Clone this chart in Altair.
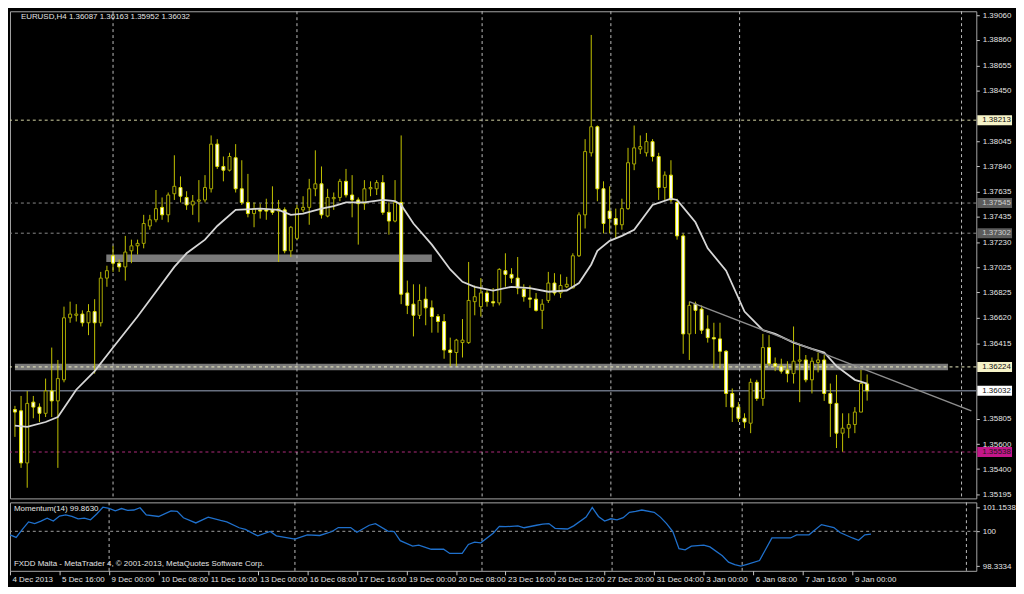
import altair as alt
import pandas as pd

# ---------------- data ----------------
OPEN = [1.3588,1.3587,1.3545,1.3594,1.3590,1.3585,1.3603,1.3595,1.3612,1.3662,
 1.3664,1.3665,1.3658,1.3667,1.3658,1.3694,1.3712,1.3706,1.3703,1.3716,
 1.3720,1.3722,1.3736,1.3741,1.3751,1.3745,1.3762,1.3767,1.3759,1.3753,
 1.3756,1.3757,1.3766,1.3802,1.3784,1.3781,1.3791,1.3766,1.3755,1.3746,
 1.3749,1.3749,1.3749,1.3748,1.3749,1.3716,1.3726,1.3749,1.3751,1.3766,
 1.3770,1.3744,1.3758,1.3759,1.3772,1.3761,1.3757,1.3754,1.3766,1.3766,
 1.3771,1.3747,1.3740,1.3755,1.3682,1.3673,1.3664,1.3677,1.3670,1.3663,
 1.3659,1.3636,1.3634,1.3642,1.3642,1.3675,1.3671,1.3682,1.3675,1.3674,
 1.3700,1.3697,1.3694,1.3685,1.3678,1.3677,1.3668,1.3676,1.3690,1.3682,
 1.3687,1.3686,1.3712,1.3745,1.3795,1.3816,1.3766,1.3748,1.3742,1.3737,
 1.3750,1.3786,1.3798,1.3795,1.3804,1.3792,1.3767,1.3777,1.3755,1.3728,
 1.3649,1.3673,1.3669,1.3653,1.3646,1.3645,1.3635,1.3601,1.3590,1.3581,
 1.3577,1.3610,1.3597,1.3638,1.3625,1.3623,1.3620,1.3617,1.3627,1.3628,
 1.3612,1.3626,1.3628,1.3601,1.3593,1.3569,1.3573,1.3576,1.3586,1.36087]

HIGH = [1.3591,1.3599,1.3603,1.3599,1.3593,1.3613,1.3638,1.3628,1.3671,1.3675,
 1.3673,1.3668,1.3673,1.3677,1.3699,1.3704,1.3720,1.3709,1.3728,1.3725,
 1.3725,1.3745,1.3745,1.3765,1.3759,1.3763,1.3793,1.3776,1.3764,1.3761,
 1.3773,1.3777,1.3809,1.3806,1.3792,1.3795,1.3802,1.3789,1.3778,1.3755,
 1.3754,1.3758,1.3768,1.3757,1.3751,1.3736,1.3753,1.3760,1.3774,1.3797,
 1.3784,1.3766,1.3763,1.3774,1.3782,1.3777,1.3759,1.3773,1.3772,1.3773,
 1.3777,1.3755,1.3773,1.3809,1.3692,1.3689,1.3689,1.3687,1.3676,1.3665,
 1.3665,1.3646,1.3645,1.3661,1.3707,1.3688,1.3694,1.3685,1.3686,1.3702,
 1.3714,1.3702,1.3711,1.3689,1.3688,1.3682,1.3677,1.3699,1.3698,1.3697,
 1.3695,1.3714,1.3747,1.3806,1.3890,1.3817,1.3772,1.3768,1.3750,1.3758,
 1.3799,1.3817,1.3809,1.3811,1.3806,1.3795,1.3780,1.3789,1.3758,1.3730,
 1.3675,1.3675,1.3672,1.3664,1.3658,1.3658,1.3636,1.3605,1.3594,1.3585,
 1.3613,1.3612,1.3649,1.3648,1.3630,1.3629,1.3627,1.3655,1.3640,1.3632,
 1.3630,1.3634,1.3632,1.3609,1.3616,1.3585,1.3585,1.3590,1.3620,1.36163]

LOW = [1.3566,1.3541,1.3525,1.3581,1.3578,1.3582,1.3582,1.3541,1.3610,1.3658,
 1.3659,1.3655,1.3648,1.3617,1.3655,1.3687,1.3699,1.3699,1.3692,1.3706,
 1.3713,1.3718,1.3733,1.3739,1.3741,1.3739,1.3757,1.3755,1.3749,1.3745,
 1.3739,1.3755,1.3763,1.3782,1.3772,1.3780,1.3763,1.3753,1.3743,1.3735,
 1.3742,1.3741,1.3745,1.3707,1.3714,1.3711,1.3725,1.3747,1.3737,1.3760,
 1.3742,1.3743,1.3749,1.3756,1.3759,1.3743,1.3721,1.3749,1.3760,1.3761,
 1.3745,1.3729,1.3739,1.3673,1.3665,1.3647,1.3661,1.3656,1.3650,1.3650,
 1.3629,1.3623,1.3623,1.3630,1.3641,1.3664,1.3663,1.3671,1.3671,1.3672,
 1.3687,1.3690,1.3681,1.3675,1.3670,1.3667,1.3653,1.3674,1.3680,1.3678,
 1.3686,1.3686,1.3711,1.3734,1.3792,1.3756,1.3730,1.3730,1.3726,1.3733,
 1.3749,1.3781,1.3794,1.3792,1.3788,1.3757,1.3757,1.3755,1.3725,1.3633,
 1.3628,1.3649,1.3649,1.3642,1.3621,1.3621,1.3590,1.3578,1.3578,1.3573,
 1.3569,1.3595,1.3591,1.3623,1.3619,1.3617,1.3610,1.3609,1.3594,1.3610,
 1.3601,1.3618,1.3595,1.3566,1.3557,1.3554,1.3565,1.3569,1.3586,1.35952]

CLOSE = [1.3586,1.3545,1.3593,1.3590,1.3585,1.3603,1.3595,1.3613,1.3662,1.3665,
 1.3665,1.3658,1.3667,1.3658,1.3694,1.3700,1.3706,1.3703,1.3715,1.3720,
 1.3722,1.3738,1.3741,1.3750,1.3745,1.3761,1.3768,1.3760,1.3753,1.3756,
 1.3757,1.3767,1.3802,1.3784,1.3781,1.3792,1.3766,1.3755,1.3746,1.3750,
 1.3748,1.3748,1.3747,1.3750,1.3716,1.3735,1.3750,1.3751,1.3766,1.3770,
 1.3745,1.3759,1.3759,1.3772,1.3761,1.3757,1.3754,1.3766,1.3767,1.3771,
 1.3747,1.3740,1.3755,1.3681,1.3672,1.3664,1.3676,1.3670,1.3663,1.3659,
 1.3636,1.3634,1.3644,1.3644,1.3676,1.3679,1.3682,1.3675,1.3674,1.3701,
 1.3697,1.3694,1.3686,1.3679,1.3677,1.3668,1.3673,1.3690,1.3682,1.3688,
 1.3689,1.3712,1.3745,1.3796,1.3816,1.3766,1.3738,1.3742,1.3737,1.3750,
 1.3787,1.3799,1.3800,1.3804,1.3792,1.3767,1.3777,1.3757,1.3728,1.3649,
 1.3672,1.3668,1.3652,1.3646,1.3645,1.3635,1.3601,1.3590,1.3581,1.3578,
 1.3610,1.3597,1.3638,1.3625,1.3623,1.3619,1.3617,1.3627,1.3628,1.3612,
 1.3627,1.3628,1.3601,1.3593,1.3569,1.3573,1.3576,1.3586,1.3609,1.36032]

MA_IDX = [0,2,5,7,10,13,16,20,23,26,28,31,33,36,40,43,45,47,50,52,54,57,60,62,63,
          65,68,71,73,75,78,81,84,87,90,92,94,95,97,99,101,104,107,108,109,111,
          113,116,119,122,124,127,130,132,134,137,139]
MA_VAL = [1.3575,1.3574,1.3578,1.3582,1.3604,1.3619,1.3638,1.3663,1.3683,1.3703,
          1.3714,1.3725,1.3736,1.3749,1.3750,1.3749,1.3745,1.3746,1.3750,1.3752,
          1.3755,1.3755,1.3757,1.3756,1.3753,1.3738,1.3721,1.3701,1.3691,1.3687,
          1.3684,1.3687,1.3686,1.3683,1.3684,1.3690,1.3705,1.3716,1.3724,1.3728,
          1.3733,1.3753,1.3758,1.3757,1.3751,1.3739,1.3718,1.3700,1.3667,1.3652,
          1.3649,1.3642,1.3637,1.3634,1.3623,1.3612,1.3609]

MOM_IDX = [0,1,2,3,4,5,6,7,8,9,10,11,12,13,14,15,16,17,18,19,20,21,22,24,26,27,28,
           30,32,34,35,37,38,40,42,43,46,48,50,52,53,55,56,58,59,61,62,63,65,66,
           68,70,71,73,74,75,76,78,79,80,82,83,85,86,87,88,90,91,93,94,95,96,97,
           98,99,100,101,102,104,105,106,107,108,109,110,112,113,115,116,117,118,
           119,121,123,125,126,127,129,131,133,134,136,137,138,139]
MOM_VAL = [99.83,99.71,100.09,100.45,100.37,100.49,100.63,100.49,100.73,100.79,
           100.71,100.60,100.63,100.55,100.83,101.1538,101.10,100.98,101.09,101.00,
           101.02,101.13,100.79,100.71,100.98,100.96,100.65,100.40,100.68,100.52,
           100.45,100.17,100.09,99.78,99.99,99.78,99.63,99.83,99.80,99.99,
           100.18,100.18,99.95,100.29,100.37,100.01,99.99,99.55,99.29,99.34,
           99.14,99.14,98.94,98.94,99.37,99.48,99.45,99.91,100.24,100.22,
           100.26,100.17,100.29,100.34,100.37,100.14,100.11,100.26,100.68,101.14,
           100.71,100.49,100.60,100.55,100.65,100.91,100.96,101.02,100.91,100.68,
           100.37,99.99,99.17,99.11,99.29,99.34,99.25,98.83,98.52,98.40,
           98.3334,98.42,98.60,99.68,99.68,99.68,99.83,99.83,100.32,100.18,
           99.94,99.68,99.57,99.83,99.863]

DATE_LABELS = ["4 Dec 2013", "5 Dec 16:00", "9 Dec 00:00", "10 Dec 08:00",
               "11 Dec 16:00", "13 Dec 00:00", "16 Dec 08:00", "17 Dec 16:00",
               "19 Dec 00:00", "20 Dec 08:00", "23 Dec 16:00", "26 Dec 12:00",
               "27 Dec 20:00", "31 Dec 04:00", "3 Jan 00:00", "6 Jan 08:00",
               "7 Jan 16:00", "9 Jan 00:00"]
DATE_STEP = 8

# regular scale labels (those hidden behind the highlighted level labels are left out)
PRICE_TICKS = [1.39060, 1.38860, 1.38655, 1.38450, 1.38045, 1.37840,
               1.37635, 1.37435, 1.37230, 1.37025, 1.36825, 1.36620, 1.36415,
               1.35805, 1.35600, 1.35400, 1.35195]
MOM_TICKS = [98.3334, 100.0, 101.1538]

SEPARATORS = [16, 46, 76.2, 97.2, 118.2, 154.4]

# user objects on the chart
DASHED_LEVELS = [1.38213, 1.37545, 1.37302, 1.36224, 1.35538]
DASHED_COLORS = ["#d6d6a4", "#8a8a8a", "#8a8a8a", "#efefc4", "#b02a7c"]
BID_LEVEL = 1.36032
BOX_X1 = [14.9, 0.0]
BOX_X2 = [68.0, 152.2]
BOX_Y1 = [1.3707, 1.36198]
BOX_Y2 = [1.3713, 1.36250]
TREND_X = [110, 156]
TREND_Y = [1.3675, 1.3587]

HL_PRICES = [1.38213, 1.37545, 1.37302, 1.36224, 1.36032, 1.35538]
HL_BG = ["#f6f3c8", "#5c5c5c", "#5c5c5c", "#f6f3c8", "#ffffff", "#c4168a"]
HL_FG = ["#111111", "#cfcfcf", "#cfcfcf", "#111111", "#111111", "#1a1a1a"]

MOM_LEVEL = 100.0

# ---------------- layout / styles ----------------
W, H1, H2 = 974, 491, 69
X_DOM = [0, 156]
Y_DOM = [1.35164, 1.39091]
M_DOM = [98.106, 101.386]
FONT = "Liberation Sans Narrow, Liberation Sans, Arial, sans-serif"
FS = 8

xs = alt.Scale(domain=X_DOM, nice=False, zero=False)
ys = alt.Scale(domain=Y_DOM, nice=False, zero=False)
ms = alt.Scale(domain=M_DOM, nice=False, zero=False)

bars = pd.DataFrame({"i": list(range(len(OPEN))), "o": OPEN, "h": HIGH,
                     "l": LOW, "c": CLOSE})
ma = pd.DataFrame({"i": MA_IDX, "v": MA_VAL})
mom = pd.DataFrame({"i": MOM_IDX, "v": MOM_VAL})
seps = pd.DataFrame({"i": SEPARATORS})
dashed = pd.DataFrame({"p": DASHED_LEVELS, "col": DASHED_COLORS})
bid = pd.DataFrame({"p": [BID_LEVEL]})
boxes = pd.DataFrame({"x1": BOX_X1, "x2": BOX_X2, "y1": BOX_Y1, "y2": BOX_Y2})
trend = pd.DataFrame({"x1": [TREND_X[0]], "x2": [TREND_X[1]],
                      "y1": [TREND_Y[0]], "y2": [TREND_Y[1]]})
hl = pd.DataFrame({"p": HL_PRICES, "bg": HL_BG, "fg": HL_FG,
                   "lab": [f"{p:.5f}" for p in HL_PRICES]})
header = pd.DataFrame({"t": [f"EURUSD,H4  {OPEN[-1]:.5f} {HIGH[-1]:.5f} "
                             f"{LOW[-1]:.5f} {CLOSE[-1]:.5f}"]})
mom_title = pd.DataFrame({"t": [f"Momentum(14) {MOM_VAL[-1]:.4f}"]})
credit = pd.DataFrame({"t": ["FXDD Malta - MetaTrader 4, \u00a9 2001-2013, MetaQuotes Software Corp."]})
mlevel = pd.DataFrame({"p": [MOM_LEVEL]})

y_axis = alt.Axis(orient="right", values=PRICE_TICKS, format=".5f", title=None,
                  labelOverlap=False, labelFlush=False, domain=False, grid=False,
                  ticks=True, tickSize=3, tickColor="#c8c8c8", labelPadding=3,
                  labelColor="#e4e4e4", labelFont=FONT, labelFontSize=FS)
label_expr = "[" + ",".join(f"'{d}'" for d in DATE_LABELS) + f"][round(datum.value/{DATE_STEP})]"
x_axis = alt.Axis(values=[k * DATE_STEP for k in range(len(DATE_LABELS))],
                  labelExpr=label_expr, title=None, grid=False, domain=False,
                  ticks=True, tickSize=4, tickColor="#c8c8c8", labelAlign="left",
                  labelBaseline="top", labelPadding=1, labelOffset=2,
                  labelFlush=False, labelOverlap=False, labelColor="#e4e4e4",
                  labelFont=FONT, labelFontSize=FS)
m_axis = alt.Axis(orient="right", values=MOM_TICKS, title=None,
                  labelExpr="datum.value == 100 ? '100' : format(datum.value, '.4f')",
                  labelOverlap=False, labelFlush=False, domain=False, grid=False,
                  ticks=True, tickSize=3, tickColor="#c8c8c8", labelPadding=3,
                  labelColor="#e4e4e4", labelFont=FONT, labelFontSize=FS)


def X(f="i"):
    return alt.X(f"{f}:Q", scale=xs, axis=None)


def Y(f):
    return alt.Y(f"{f}:Q", scale=ys, axis=y_axis)


def MX(f="i"):
    return alt.X(f"{f}:Q", scale=xs, axis=x_axis)


def MY(f):
    return alt.Y(f"{f}:Q", scale=ms, axis=m_axis)


# ---- main pane layers ----
box_layer = alt.Chart(boxes).mark_rect(color="#7a7a7a", clip=True).encode(
    x=X("x1"), x2="x2:Q", y=Y("y1"), y2="y2:Q")

dash_layer = alt.Chart(dashed).mark_rule(strokeDash=[3, 3], strokeWidth=1).encode(
    y=Y("p"), color=alt.Color("col:N", scale=None))

bid_layer = alt.Chart(bid).mark_rule(color="#687080", strokeWidth=1.5).encode(y=Y("p"))

sep_layer = alt.Chart(seps).mark_rule(strokeDash=[3, 3], color="#bdbdbd",
                                      strokeWidth=1).encode(x=X())

wick_layer = alt.Chart(bars).mark_rule(color="#c2c200", strokeWidth=1, clip=True).encode(
    x=X(), y=Y("l"), y2="h:Q")

up = "datum.c >= datum.o"
body_layer = alt.Chart(bars).mark_bar(size=3, strokeWidth=1, clip=True).encode(
    x=X(), y=Y("o"), y2="c:Q",
    fill=alt.condition(up, alt.value("#000000"), alt.value("#ffffff")),
    stroke=alt.condition(up, alt.value("#a8a800"), alt.value("#e2e200")))

ma_layer = alt.Chart(ma).mark_line(color="#d6d6d6", strokeWidth=1.8, clip=True).encode(
    x=X(), y=Y("v"))

trend_layer = alt.Chart(trend).mark_rule(color="#8e8e8e", strokeWidth=1.5, clip=True).encode(
    x=X("x1"), x2="x2:Q", y=Y("y1"), y2="y2:Q")

hl_box = alt.Chart(hl).transform_calculate(
    lo="datum.p - 0.00040", hi="datum.p + 0.00040").mark_rect().encode(
    x=alt.value(W + 1), x2=alt.value(W + 36), y=Y("lo"), y2="hi:Q",
    fill=alt.Color("bg:N", scale=None))

hl_text = alt.Chart(hl).mark_text(align="left", baseline="middle", font=FONT,
                                  fontSize=FS).encode(
    x=alt.value(W + 6), y=Y("p"), text="lab:N", color=alt.Color("fg:N", scale=None))

head_layer = alt.Chart(header).mark_text(align="left", baseline="middle", font=FONT,
                                         fontSize=FS, color="#e4e4e4").encode(
    x=alt.value(11), y=alt.value(6), text="t:N")

main = alt.layer(box_layer, dash_layer, bid_layer, sep_layer, wick_layer, body_layer,
                 ma_layer, trend_layer, hl_box, hl_text, head_layer).properties(
    width=W, height=H1)

# ---- momentum pane ----
m_sep = alt.Chart(seps).mark_rule(strokeDash=[3, 3], color="#bdbdbd",
                                  strokeWidth=1).encode(x=MX())
m_level = alt.Chart(mlevel).mark_rule(strokeDash=[3, 3], color="#a0a0a0").encode(y=MY("p"))
m_line = alt.Chart(mom).mark_line(color="#1f70cc", strokeWidth=1.3, clip=True).encode(
    x=MX(), y=MY("v"))
m_title = alt.Chart(mom_title).mark_text(align="left", baseline="middle", font=FONT,
                                         fontSize=FS, color="#e4e4e4").encode(
    x=alt.value(4), y=alt.value(7), text="t:N")
m_credit = alt.Chart(credit).mark_text(align="left", baseline="middle", font=FONT,
                                       fontSize=FS, color="#e4e4e4").encode(
    x=alt.value(4), y=alt.value(62), text="t:N")

momentum = alt.layer(m_sep, m_level, m_line, m_title, m_credit).properties(
    width=W, height=H2)

chart = alt.vconcat(main, momentum, spacing=2).properties(
    background="#000000",
    padding={"left": 0, "top": 0, "right": 0, "bottom": 0},
).configure_view(stroke="#a6a6a6", strokeWidth=1)

chart.save("out.html", embed_options={"renderer": "svg", "actions": False})
